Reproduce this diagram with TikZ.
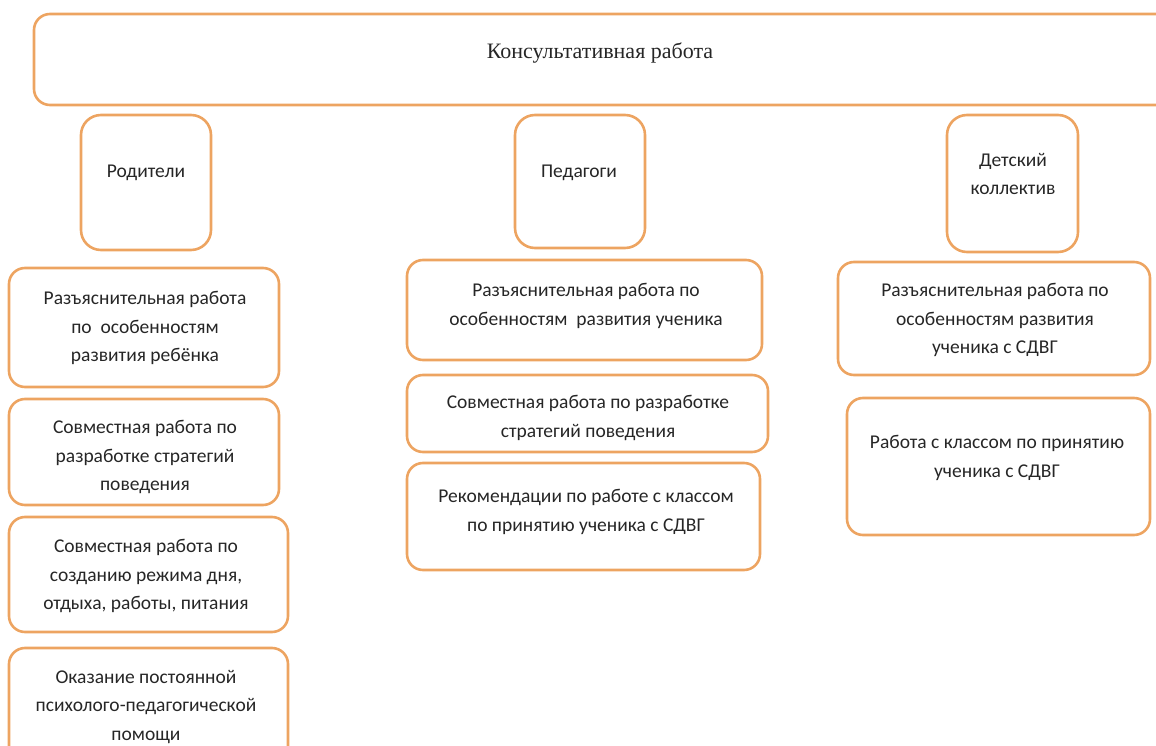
\documentclass[tikz,border=0pt]{standalone}
\usepackage{fontspec}
\setmainfont{Carlito}
\newfontfamily\titlefont{Liberation Serif}
\usepackage{xcolor}
\definecolor{boxorange}{HTML}{EDA461}
\definecolor{txtgrey}{HTML}{262626}
\def\bodysize{\fontsize{19.5}{28.5}\selectfont}
\def\titlesize{\titlefont\fontsize{22}{26}\selectfont}

\begin{document}
\begin{tikzpicture}[x=1pt,y=-1pt,
  every node/.style={align=center,text=txtgrey,font=\bodysize,inner sep=0pt},
  frame/.style={draw=boxorange,line width=2.6pt,rounded corners=20pt},
  wide/.style={frame,rounded corners=16pt}]
\useasboundingbox (0,0) rectangle (1156,746);

% top
\draw[wide] (1160,14) -- (34,14) -- (34,105) -- (1160,105);
\node[font=\titlesize] (head) at (600,53) {Консультативная работа};

% groups
\draw[frame] (81,115) rectangle (211,250);
\node (par) at (146,173) {Родители};
\draw[frame] (515,115) rectangle (645,248);
\node (ped) at (579,173) {Педагоги};
\draw[frame] (947,115) rectangle (1078,252);
\node (kids) at (1013,174) {Детский\\коллектив};
% <- end groups

% parents
\draw[wide] (9,268) rectangle (279,387);
\node (par1) at (145,328) {Разъяснительная работа\\по\ \ особенностям\\развития ребёнка};
\draw[wide] (9,399) rectangle (279,505);
\node (par2) at (145,457) {Совместная работа по\\разработке стратегий\\поведения};
\draw[wide] (9,517) rectangle (288,632);
\node (par3) at (146,576) {Совместная работа по\\созданию режима дня,\\отдыха, работы, питания};
\draw[wide] (9,750) -- (9,648) -- (288,648) -- (288,750);
\node (par4) at (146,707) {Оказание постоянной\\психолого-педагогической\\помощи};
% <- end parents

% teachers
\draw[wide] (407,260) rectangle (762,360);
\node (ped1) at (586,306) {Разъяснительная работа по\\особенностям\ \ развития ученика};
\draw[wide] (407,375) rectangle (768,452);
\node (ped2) at (588,418) {Совместная работа по разработке\\стратегий поведения};
\draw[wide] (407,463) rectangle (760,570);
\node (ped3) at (586,512) {Рекомендации по работе с классом\\по принятию ученика с СДВГ};
% <- end teachers

% class
\draw[wide] (838,262) rectangle (1150,375);
\node (kids1) at (995,320) {Разъяснительная работа по\\особенностям развития\\ученика с СДВГ};
\draw[wide] (847,398) rectangle (1150,535);
\node (kids2) at (997,458) {Работа с классом по принятию\\ученика с СДВГ};
% <- end class
\end{tikzpicture}
\end{document}
